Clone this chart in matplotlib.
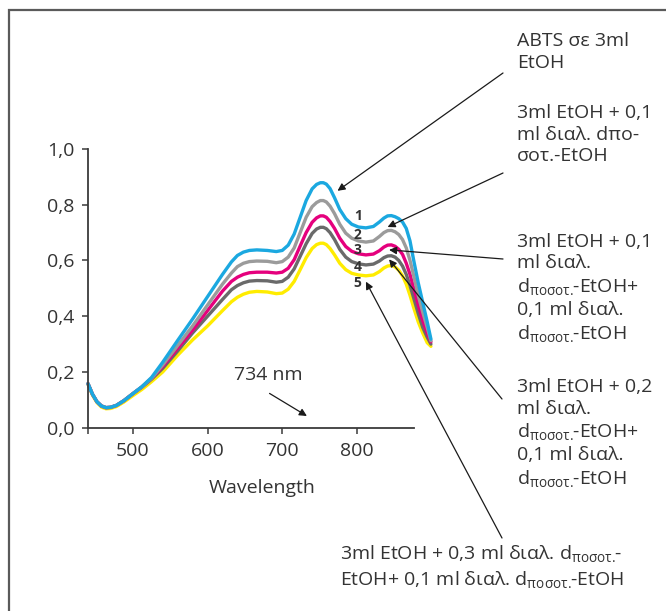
import matplotlib.pyplot as plt
from matplotlib.patches import Rectangle

plt.rcParams['font.family'] = ['Open Sans', 'DejaVu Sans']
plt.rcParams['mathtext.fontset'] = 'custom'
plt.rcParams['mathtext.rm'] = 'Open Sans'

# wavelengths (nm)
wl = [440, 446, 452, 458, 464, 470, 478, 488, 500, 512, 525, 540, 560, 580, 600,
      620, 632, 640, 648, 656, 666, 680, 692, 700, 708, 716, 724, 732, 740, 746,
      751, 755, 759, 764, 770, 777, 785, 793, 802, 812, 822, 830, 836, 841, 846,
      851, 856, 861, 866, 871, 876, 882, 888, 894, 899]

low = [0.158, 0.12, 0.093, 0.078, 0.072, 0.073, 0.08, 0.097, 0.122]

abs_1 = low + [0.147, 0.18, 0.235, 0.313, 0.39, 0.47, 0.55, 0.595, 0.618, 0.63,
               0.636, 0.638, 0.636, 0.632, 0.636, 0.655, 0.695, 0.755, 0.815, 0.857,
               0.873, 0.879, 0.879, 0.874, 0.858, 0.825, 0.783, 0.75, 0.73, 0.72,
               0.717, 0.722, 0.738, 0.752, 0.76, 0.761, 0.757, 0.75, 0.738, 0.715,
               0.67, 0.6, 0.52, 0.45, 0.38, 0.318]
abs_2 = low + [0.146, 0.177, 0.225, 0.295, 0.365, 0.44, 0.515, 0.555, 0.578, 0.59,
               0.596, 0.598, 0.597, 0.592, 0.596, 0.612, 0.645, 0.70, 0.755, 0.793,
               0.808, 0.815, 0.815, 0.81, 0.795, 0.768, 0.73, 0.698, 0.68, 0.67,
               0.666, 0.67, 0.686, 0.70, 0.707, 0.708, 0.703, 0.693, 0.675, 0.645,
               0.60, 0.545, 0.475, 0.415, 0.36, 0.312]
abs_3 = low + [0.146, 0.177, 0.22, 0.285, 0.35, 0.42, 0.49, 0.525, 0.54, 0.55,
               0.556, 0.558, 0.558, 0.555, 0.558, 0.572, 0.603, 0.652, 0.70, 0.737,
               0.753, 0.76, 0.76, 0.755, 0.74, 0.715, 0.68, 0.65, 0.633, 0.624,
               0.62, 0.623, 0.635, 0.648, 0.655, 0.656, 0.651, 0.64, 0.622, 0.59,
               0.55, 0.50, 0.44, 0.385, 0.34, 0.308]
abs_4 = low + [0.145, 0.174, 0.213, 0.275, 0.34, 0.40, 0.46, 0.495, 0.51, 0.52,
               0.526, 0.528, 0.527, 0.522, 0.525, 0.54, 0.57, 0.615, 0.66, 0.697,
               0.713, 0.719, 0.719, 0.714, 0.70, 0.675, 0.64, 0.612, 0.596, 0.588,
               0.584, 0.587, 0.598, 0.61, 0.616, 0.617, 0.612, 0.60, 0.58, 0.55,
               0.51, 0.465, 0.41, 0.36, 0.325, 0.30]
abs_5 = [0.156, 0.117, 0.09, 0.074, 0.068, 0.069, 0.076, 0.092, 0.115,
         0.137, 0.165, 0.20, 0.26, 0.315, 0.365, 0.42, 0.452, 0.468, 0.479,
         0.486, 0.489, 0.487, 0.481, 0.483, 0.497, 0.525, 0.567, 0.61, 0.643,
         0.657, 0.662, 0.662, 0.657, 0.643, 0.62, 0.59, 0.567, 0.554, 0.548,
         0.545, 0.548, 0.56, 0.573, 0.58, 0.582, 0.577, 0.565, 0.545, 0.515,
         0.475, 0.43, 0.38, 0.34, 0.305, 0.292]

series = [abs_1, abs_2, abs_3, abs_4, abs_5]
colors = ['#1ba8e0', '#9b9b9b', '#e5007d', '#6a6a6a', '#ffec00']

x_ticks = [440, 500, 600, 700, 800]
x_labels = ['', '500', '600', '700', '800']
y_ticks = [0.0, 0.2, 0.4, 0.6, 0.8, 1.0]
y_labels = ['0,0', '0,2', '0,4', '0,6', '0,8', '1,0']

sub = 'd$_{\\mathrm{ποσοτ.}}\\!$'
labels = [
    'ABTS σε 3ml\nEtOH',
    '3ml EtOH + 0,1\nml διαλ. dπο-\nσοτ.-EtOH',
    '3ml EtOH + 0,1\nml διαλ.\n' + sub + '-EtOH+\n0,1 ml διαλ.\n' + sub + '-EtOH',
    '3ml EtOH + 0,2\nml διαλ.\n' + sub + '-EtOH+\n0,1 ml διαλ.\n' + sub + '-EtOH',
    '3ml EtOH + 0,3 ml διαλ. ' + sub + '-\nEtOH+ 0,1 ml διαλ. ' + sub + '-EtOH',
]
# arrow heads on the curves (data) and tails (figure pixels from top-left)
heads = [(774, 0.85), (841, 0.72), (843, 0.638), (843, 0.604), (812, 0.524)]
tails = [(503, 73), (503, 173), (503, 259), (502, 399), (502, 538)]
text_pos = [(517, 32), (517, 104), (517, 233), (517, 378), (340, 544)]
num_pos = [(801, 0.76), (801, 0.69), (801, 0.638), (801, 0.575), (801, 0.518)]

W, H = 666, 611
fig = plt.figure(figsize=(W / 100, H / 100), dpi=100)
ax = fig.add_axes([88 / W, 1 - 427.7 / H, 347.4 / W, 278.7 / H])

for vals, c in zip(series[::-1], colors[::-1]):
    ax.plot(wl, vals, color=c, lw=2.4, solid_capstyle='round',
            solid_joinstyle='round', clip_on=False)

ax.set_xlim(440, 905)
ax.set_ylim(0, 1.0)
ax.spines['top'].set_visible(False)
ax.spines['right'].set_visible(False)
ax.spines['bottom'].set_bounds(440, 876)
for s in ['left', 'bottom']:
    ax.spines[s].set_color('#3a3a3a')
    ax.spines[s].set_linewidth(1.3)
ax.set_xticks(x_ticks)
ax.set_xticklabels(x_labels)
ax.set_yticks(y_ticks)
ax.set_yticklabels(y_labels)
ax.tick_params(direction='out', length=4, width=1.1, color='#3a3a3a',
               labelsize=14, labelcolor='#333333', pad=6)
ax.set_xlabel('Wavelength', fontsize=14, color='#333333', labelpad=14)

for h, t, tp, lab in zip(heads, tails, text_pos, labels):
    ax.annotate('', xy=h, xycoords='data',
                xytext=(t[0] / W, 1 - t[1] / H), textcoords='figure fraction',
                arrowprops=dict(arrowstyle='-|>', color='#1a1a1a', lw=0.9,
                                mutation_scale=11, shrinkA=0, shrinkB=0),
                annotation_clip=False)
    fig.text(tp[0] / W, 1 - tp[1] / H, lab, fontsize=14, color='#333333',
             ha='left', va='top', linespacing=1.25)

for i, (x, y) in enumerate(num_pos):
    ax.text(x, y, str(i + 1), fontsize=10, fontweight='bold', color='#333333',
            ha='center', va='center')

ax.text(681, 0.19, '734 nm', fontsize=14, color='#333333', ha='center', va='center')
ax.annotate('', xy=(733, 0.042), xytext=(683, 0.123),
            arrowprops=dict(arrowstyle='-|>', color='#1a1a1a', lw=0.9,
                            mutation_scale=11, shrinkA=0, shrinkB=0))

# outer frame, cut off at the right and bottom edges
fig.patches.append(Rectangle((9 / W, -0.1), 1.2, 1.1 - 10 / H,
                             transform=fig.transFigure, fill=False,
                             edgecolor='#5a5a5a', lw=1.6))

fig.savefig('out.png', dpi=100)
